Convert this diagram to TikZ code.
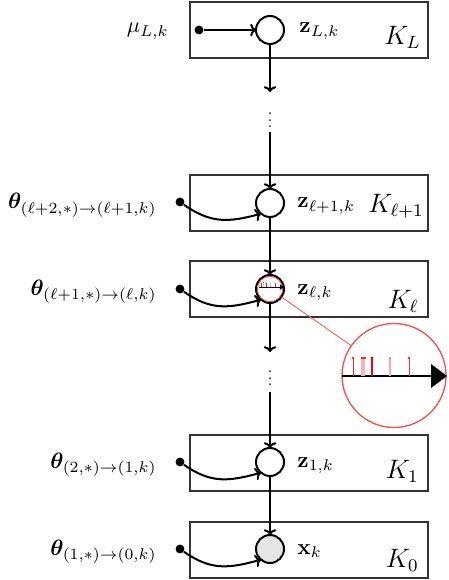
\documentclass[tikz,border=0pt]{standalone}
\usepackage{amsmath,bm}
\usetikzlibrary{arrows.meta}
\newcommand\zoomcontent{%
  \draw[line width=1.2pt] (-52,0) -- (40,0);
  \fill (37,-12) -- (53,0) -- (37,12) -- cycle;
  \draw[red!85, line width=0.35pt] (-41,0) -- (-41,-18);
  \fill[red!85] (-41,-18) circle (0.6pt);
  \draw[red!30, line width=1.8pt] (-31,0) -- (-31,-18);
  \fill[red!85] (-33.5,-19) rectangle (-28.5,-17);
  \draw[red, line width=0.75pt] (-22,0) -- (-22,-18);
  \fill[red] (-22,-18) circle (0.75pt);
  \draw[red!35, line width=0.7pt] (-4,0) -- (-4,-18);
  \fill[red!60] (-4,-18) circle (0.55pt);
  \draw[red!80, line width=0.35pt] (15,0) -- (15,-18);
  \fill[red!85] (15,-18) circle (0.6pt);
}
\begin{document}
\begin{tikzpicture}[x=0.45pt,y=-0.45pt,
  plate/.style={draw=black!80, line width=0.9pt, minimum width=107.1pt, minimum height=25.2pt, inner sep=0pt, outer sep=0pt},
  var/.style={circle, draw, line width=0.9pt, minimum size=12.6pt, inner sep=0pt, outer sep=0pt},
  obs/.style={var, fill=black!10},
  src/.style={circle, fill, inner sep=0pt, minimum size=4pt},
  arr/.style={-{To[length=2.6pt,width=5.6pt]}, line width=0.9pt},
  curv/.style={arr, out=-35, in=195, looseness=1.1},
  zlab/.style={anchor=base west, inner sep=0pt},
  klab/.style={anchor=base east, inner sep=0pt, font=\large},
  tlab/.style={anchor=base east, inner sep=0pt},
  ell/.style={scale=0.73, inner sep=0pt}]
\useasboundingbox (0,0) rectangle (448,580);
% plates
\node[plate] (pL) at (309,30) {};
\node[plate] (pA) at (309,203) {};
\node[plate] (pB) at (309,289) {};
\node[plate] (pC) at (309,462.5) {};
\node[plate] (pD) at (309,549.5) {};
% variables
\node[var] (zL) at (270,30) {};
\node[var] (zA) at (270,203) {};
\node[var] (zB) at (270,289) {};
\node[var] (zC) at (270,462) {};
\node[obs] (x) at (270,549) {};
% sources
\node[src] (sL) at (199,30) {};
\node[src] (sA) at (180,202) {};
\node[src] (sB) at (180,289) {};
\node[src] (sC) at (180,462) {};
\node[src] (sD) at (180,549) {};
% labels
\node[tlab] (mu) at (169,33) {$\mu_{L,k}$};
\node[tlab] (tA) at (157,209) {$\bm{\theta}_{(\ell+2,*)\to(\ell+1,k)}$};
\node[tlab] (tB) at (157,295) {$\bm{\theta}_{(\ell+1,*)\to(\ell,k)}$};
\node[tlab] (tC) at (157,468) {$\bm{\theta}_{(2,*)\to(1,k)}$};
\node[tlab] (tD) at (157,555) {$\bm{\theta}_{(1,*)\to(0,k)}$};
\node[zlab] (lzL) at (299,33) {$\mathbf{z}_{L,k}$};
\node[zlab] (lzA) at (297,208) {$\mathbf{z}_{\ell+1,k}$};
\node[zlab] (lzB) at (297,294) {$\mathbf{z}_{\ell,k}$};
\node[zlab] (lzC) at (297,467) {$\mathbf{z}_{1,k}$};
\node[zlab] (lx) at (297,554) {$\mathbf{x}_{k}$};
\node[klab] (kL) at (421,45) {$K_L$};
\node[klab] (kA) at (424,213) {$K_{\ell+1}$};
\node[klab] (kB) at (419,308) {$K_\ell$};
\node[klab] (kC) at (419,478) {$K_1$};
\node[klab] (kD) at (419,567) {$K_0$};
% ellipses
\node[ell] (e1) at (270,115.5) {$\vdots$};
\node[ell] (e2) at (270,373.5) {$\vdots$};
\coordinate (a1) at (270,92);
\coordinate (b1) at (270,132);
\coordinate (a2) at (270,352);
\coordinate (b2) at (270,392);
% vertical arrows
\draw[arr] (zL) -- (a1);
\draw[arr] (b1) -- (zA);
\draw[arr] (zA) -- (zB);
\draw[arr] (zB) -- (a2);
\draw[arr] (b2) -- (zC);
\draw[arr] (zC) -- (x);
% input arrows
\draw[arr] (sL) -- (zL);
\draw[curv] (sA) to (zA.230);
\draw[curv] (sB) to (zB.230);
\draw[curv] (sC) to (zC.230);
\draw[curv] (sD) to (x.230);
% magnifier
\node[circle, draw=red!70, line width=0.6pt, minimum size=46.8pt, inner sep=0pt, outer sep=0pt] (mag) at (394,375.5) {};
\draw[red!65, line width=0.4pt] (zB) -- (mag);
\node[circle, draw=red!75, line width=0.35pt, minimum size=11.4pt, inner sep=0pt] (spot) at (270,289) {};
\begin{scope}[shift={(394,376)}]
\zoomcontent
\end{scope}
\begin{scope}[transform canvas={shift={(271,287)}, scale=0.24}]
\zoomcontent
\end{scope}
\end{tikzpicture}
\end{document}
